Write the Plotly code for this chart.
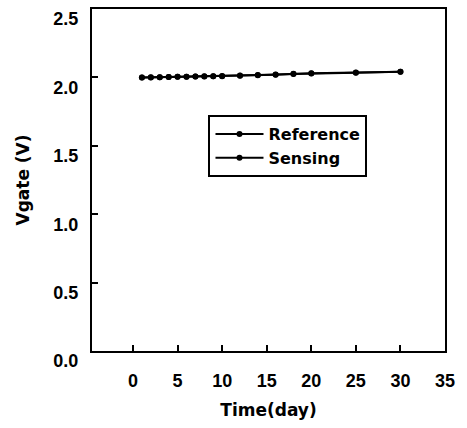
import plotly.graph_objects as go

days = [1, 2, 3, 4, 5, 6, 7, 8, 9, 10, 12, 14, 16, 18, 20, 25, 30]
reference = [2.000, 2.000, 2.001, 2.003, 2.004, 2.005, 2.006, 2.007, 2.008, 2.009,
             2.012, 2.016, 2.020, 2.025, 2.029, 2.034, 2.041]
sensing = [2.000, 2.001, 2.002, 2.003, 2.004, 2.005, 2.006, 2.008, 2.009, 2.010,
           2.013, 2.017, 2.021, 2.026, 2.030, 2.035, 2.042]
x_ticks = [0, 5, 10, 15, 20, 25, 30, 35]
x_tick_text = ["0", "5", "10", "15", "20", "25", "30", "35"]
y_ticks = [0.0, 0.5, 1.0, 1.5, 2.0, 2.5]
y_tick_text = ["0.0", "0.5", "1.0", "1.5", "2.0", "2.5"]

fig = go.Figure()
for name, vals in [("Reference", reference), ("Sensing", sensing)]:
    fig.add_trace(go.Scatter(
        x=days, y=vals, name="<b>%s</b>" % name, mode="lines+markers",
        line=dict(color="black", width=2),
        marker=dict(color="black", size=6, symbol="circle"),
    ))

tick_font = dict(family="Liberation Sans", size=18, color="black")
title_font = dict(family="DejaVu Sans", size=17, color="black")

fig.update_layout(
    width=467, height=428,
    margin=dict(l=92, r=22, t=9, b=77),
    paper_bgcolor="white", plot_bgcolor="white",
    showlegend=True,
    legend=dict(
        x=0.33, y=0.69, xanchor="left", yanchor="top",
        bordercolor="black", borderwidth=2, bgcolor="white",
        font=dict(family="DejaVu Sans", size=16, color="black"),
        itemwidth=48, tracegroupgap=0,
    ),
    xaxis=dict(
        range=[-4.6, 35], tickvals=x_ticks,
        ticktext=["<b>%s</b>" % t for t in x_tick_text],
        ticks="inside", ticklen=6, automargin=False,
        tickwidth=1.5, tickcolor="black", showline=True, linecolor="black",
        linewidth=2, mirror=True, showgrid=False, zeroline=False,
        tickfont=tick_font, ticklabelstandoff=12, ticklabeloverflow="allow",
        title=dict(text="<b>Time(day)</b>", font=title_font, standoff=15),
    ),
    yaxis=dict(
        range=[0, 2.5], tickvals=y_ticks, automargin=False,
        ticktext=["<b>%s</b>" % t for t in y_tick_text], ticks="inside",
        ticklen=6, tickwidth=1.5, tickcolor="black", showline=True,
        linecolor="black", linewidth=2, mirror=True, showgrid=False,
        zeroline=False, tickfont=tick_font, ticklabelstandoff=8,
        ticklabelshift=10, ticklabeloverflow="allow",
        title=dict(text="<b>Vgate (V)</b>", font=title_font, standoff=19),
    ),
)

fig.write_html("out.html", config={"displayModeBar": False},
               post_script="document.body.style.margin='0';")
